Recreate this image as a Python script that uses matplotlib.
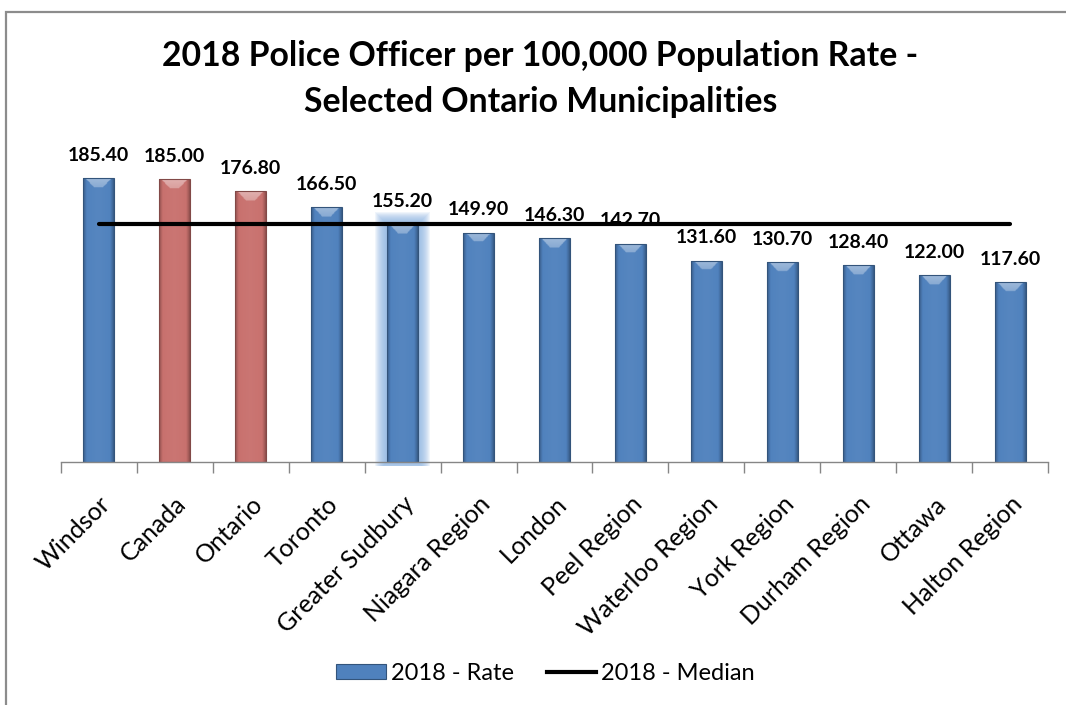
import numpy as np
import matplotlib
matplotlib.use("Agg")
import matplotlib.pyplot as plt
from matplotlib.patches import Rectangle, Patch, FancyBboxPatch
from matplotlib.lines import Line2D
from matplotlib.colors import to_rgb

# ---------------- data ----------------
categories = ["Windsor", "Canada", "Ontario", "Toronto", "Greater Sudbury",
              "Niagara Region", "London", "Peel Region", "Waterloo Region",
              "York Region", "Durham Region", "Ottawa", "Halton Region"]
rates = [185.40, 185.00, 176.80, 166.50, 155.20, 149.90, 146.30,
         142.70, 131.60, 130.70, 128.40, 122.00, 117.60]
median_value = 155.2
bar_groups = ["city", "ref", "ref", "city", "highlight", "city", "city",
              "city", "city", "city", "city", "city", "city"]
title_lines = ["2018 Police Officer per 100,000 Population Rate -",
               "Selected Ontario Municipalities"]
legend_labels = ["2018 - Rate", "2018 - Median"]

# ---------------- style ----------------
BLUE = "#4F81BD"
RED = "#C8706D"
GLOW = "#8DB4E2"
FONT = "Lato"
W, H, DPI = 1066, 705, 100

fig = plt.figure(figsize=(W / DPI, H / DPI), dpi=DPI)
fig.patch.set_facecolor("white")

# outer chart border
fig.patches.append(Rectangle((5.5 / W, -0.05), 1.2, 1 - 11.5 / H + 0.05,
                             transform=fig.transFigure, fill=False,
                             edgecolor="#8c8c8c", linewidth=1.6))

ax_left, ax_right = 60.7 / W, 1048.3 / W
ax_bottom, ax_top = (H - 461.7) / H, (H - 156.0) / H
ax = fig.add_axes([ax_left, ax_bottom, ax_right - ax_left, ax_top - ax_bottom])
ax.set_xlim(-0.5, len(categories) - 0.5)
ax.set_ylim(0, 200)
ax.patch.set_alpha(0)

x = np.arange(len(categories))
colors = [RED if g == "ref" else BLUE for g in bar_groups]
bars = ax.bar(x, rates, width=0.40, color=colors, zorder=2,
              edgecolor="none", linewidth=0)

px_per_unit = (ax_top - ax_bottom) * H / 200.0
unit_per_px_x = (len(categories)) / ((ax_right - ax_left) * W)


def shade(c, f):
    c = np.array(to_rgb(c))
    if f >= 0:
        return c + (1 - c) * f
    return c * (1 + f)


for b, g, col in zip(bars, bar_groups, colors):
    x0, w, h = b.get_x(), b.get_width(), b.get_height()
    # glow for highlighted bar: stacked translucent rectangles
    if g == "highlight":
        for p in range(1, 13):
            px_ = p * unit_per_px_x
            py_ = p / px_per_unit
            ax.add_patch(Rectangle((x0 - px_, -min(p, 4) / px_per_unit),
                                   w + 2 * px_, h + py_ + min(p, 4) / px_per_unit,
                                   facecolor=GLOW, edgecolor="none",
                                   alpha=0.13, zorder=1.5, clip_on=False))
    # body gradient with dark edges and a light top bevel
    nx, ny = 40, 400
    u = np.linspace(-1, 1, nx)
    yy = np.linspace(0, h, ny)
    U, Y = np.meshgrid(u, yy)
    base = np.array(to_rgb(col))
    edge = np.clip((np.abs(U) - 0.75) / 0.25, 0, 1)
    factor = -0.28 * edge ** 1.3 + 0.04 * (1 - np.abs(U))
    rgb = np.empty((ny, nx, 3))
    for k in range(3):
        rgb[..., k] = np.where(factor >= 0,
                               base[k] + (1 - base[k]) * factor,
                               base[k] * (1 + factor))
    bev = 9 / px_per_unit
    d = (h - Y) / bev
    inside = (d >= 0) & (d <= 1) & (np.abs(U) <= 0.85 - 0.55 * d)
    hl = shade(col, 0.45)
    for k in range(3):
        rgb[..., k] = np.where(inside, hl[k] * (1 - 0.3 * d) + rgb[..., k] * 0.3 * d, rgb[..., k])
    rgb = np.clip(rgb, 0, 1)
    im = ax.imshow(rgb, extent=(x0, x0 + w, 0, h), origin="lower",
                   aspect="auto", zorder=2.1, interpolation="bilinear")
    im.set_clip_path(b)
    ax.add_patch(Rectangle((x0, 0), w, h, fill=False,
                           edgecolor=shade(col, -0.35), linewidth=0.8,
                           zorder=2.2))

# value labels
for xi, v in zip(x, rates):
    ax.annotate(f"{v:.2f}", (xi, v), xytext=(0, 16.5),
                textcoords="offset points", ha="center", va="center",
                fontsize=14, fontweight="bold", family=FONT,
                color="black", zorder=3)

# median line
ax.plot([x[0], x[-1]], [median_value, median_value], color="black",
        linewidth=3.0, solid_capstyle="round", zorder=4)

# axes styling
for s in ["top", "right", "left"]:
    ax.spines[s].set_visible(False)
ax.spines["bottom"].set_color("#868686")
ax.spines["bottom"].set_linewidth(1.0)
ax.spines["bottom"].set_zorder(3)
ax.set_yticks([])
ax.set_xticks(x)
ax.set_xticklabels(categories, rotation=45, ha="right",
                   rotation_mode="anchor", fontsize=18, family=FONT)
ax.tick_params(axis="x", which="major", length=0, pad=22)
ax.set_xticks(np.arange(-0.5, len(categories), 1.0), minor=True)
ax.tick_params(axis="x", which="minor", length=8, width=1.0,
               color="#868686", direction="out")

# title
fig.text(540.5 / W, 1 - 56 / H, title_lines[0], ha="center", va="center",
         fontsize=24.3, fontweight="bold", family=FONT)
fig.text(540.5 / W, 1 - 102 / H, title_lines[1], ha="center", va="center",
         fontsize=24.3, fontweight="bold", family=FONT)

# legend
handles = [Patch(facecolor=BLUE, edgecolor=shade(BLUE, -0.35), linewidth=0.8),
           Line2D([0], [0], color="black", linewidth=3.0)]
fig.legend(handles, legend_labels, loc="center", ncol=2,
           bbox_to_anchor=(545.5 / W, 1 - 673 / H), frameon=False,
           prop={"family": FONT, "size": 17}, handlelength=2.1,
           handleheight=0.6, handletextpad=0.2, columnspacing=1.4)

fig.savefig("out.png", dpi=DPI, facecolor="white")
